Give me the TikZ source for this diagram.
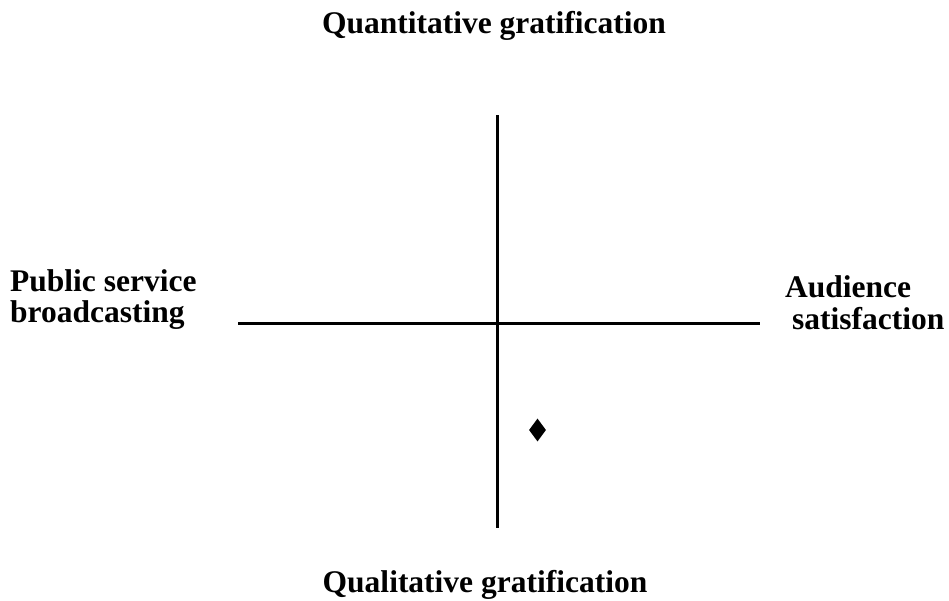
\documentclass[tikz,border=0pt]{standalone}
\usepackage{fontspec}
\setmainfont{Liberation Serif}
\usetikzlibrary{shapes.geometric}
\begin{document}
\begin{tikzpicture}[x=1pt,y=-1pt,
  lab/.style={font=\fontsize{31.5}{31}\selectfont\bfseries, inner sep=0pt},
  axis/.style={line width=3pt, black}]
\useasboundingbox (0,0) rectangle (949,600);
\coordinate (vt) at (497,115);
\coordinate (vb) at (497,528);
\coordinate (hl) at (238,323);
\coordinate (hr) at (760,323);
\draw[axis] (vt) -- (vb);
\draw[axis] (hl) -- (hr);
\node[diamond, fill=black, minimum width=17pt, minimum height=23pt, inner sep=0pt] (pt) at (537.5,430) {};
\node[lab, anchor=base] (top) at (494,33) {Quantitative gratification};
\node[lab, anchor=base] (bot) at (485,592) {Qualitative gratification};
\node[lab, anchor=base west] (l1) at (10,291) {Public service};
\node[lab, anchor=base west] (l2) at (10,322) {broadcasting};
\node[lab, anchor=base west] (r1) at (785,297) {Audience};
\node[lab, anchor=base west] (r2) at (792,329) {satisfaction};
\end{tikzpicture}
\end{document}
